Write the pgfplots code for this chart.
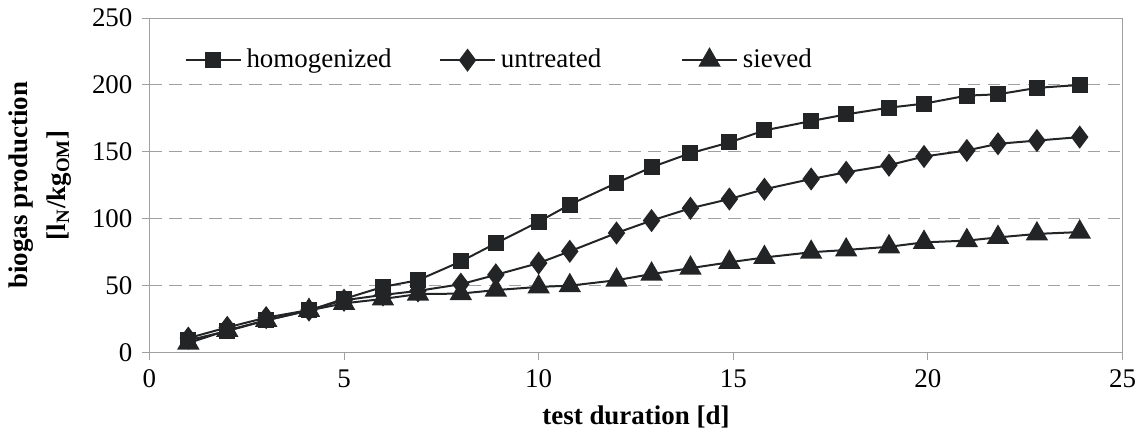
\documentclass[border=0pt]{standalone}
\usepackage{fontspec}
\setmainfont{Liberation Serif}
\usepackage{pgfplots}
\pgfplotsset{compat=1.18}

\definecolor{ink}{HTML}{222426}
\definecolor{frame}{HTML}{A0A0A0}

\begin{document}
\fontsize{10.8}{13}\selectfont
\begin{tikzpicture}
\begin{axis}[
    scale only axis,
    width=390pt, height=134pt,
    xmin=0, xmax=25, ymin=0, ymax=250,
    xtick={0,5,...,25}, ytick={0,50,...,250},
    tick align=outside, tick pos=left,
    major tick length=3pt,
    axis line style={frame},
    every tick/.style={frame},
    ymajorgrids,
    grid style={frame, dash pattern=on 5pt off 3pt},
    /pgf/number format/assume math mode=true,
    tick label style={font=\fontsize{10.8}{13}\selectfont},
    xticklabel style={inner xsep=0pt},
    xlabel={\textbf{test duration [d]}},
    ylabel={\textbf{biogas production}\\\textbf{[l\textsubscript{N}/kg\textsubscript{OM}]}},
    ylabel style={align=center, font=\fontsize{10.8}{15}\selectfont, yshift=1pt},
    legend style={at={(0.028,0.874)}, anchor=west, draw=none, fill=none,
        legend columns=3, font=\fontsize{10.8}{13}\selectfont,
        /tikz/column 2/.style={column sep=17pt},
        /tikz/column 4/.style={column sep=30pt}},
    legend image code/.code={\draw[#1] (0pt,0pt) -- (22pt,0pt); \draw[#1,mark repeat=2,mark phase=2] plot coordinates {(0pt,0pt) (11pt,0pt) (22pt,0pt)};},
    every axis plot/.append style={ink, line width=0.8pt, mark options={solid, fill=ink, draw=ink}},
]
\addplot[mark=square*, mark size=2.8pt] coordinates {
    (1,9) (2,16) (3,24) (4.1,31.4) (5,40) (6,49) (6.9,54) (8,68) (8.9,81.6)
    (10,97.7) (10.8,110.5) (12,126.7) (12.9,138.5) (13.9,149) (14.9,157)
    (15.8,166) (17,173) (17.9,178) (19,183) (19.9,186) (21,192) (21.8,193)
    (22.8,197.8) (23.9,200)
};
\addplot[mark=diamond*, mark size=4pt] coordinates {
    (1,10.7) (2,18.7) (3,26) (4.1,31.7) (5,39) (6,43) (6.9,46) (8,51) (8.9,58)
    (10,66.8) (10.8,75.6) (12,89.3) (12.9,98.6) (13.9,107.8) (14.9,114.7)
    (15.8,122) (17,129.7) (17.9,134.7) (19,140) (19.9,146.5) (21,151) (21.8,156)
    (22.8,158.4) (23.9,161)
};
\addplot[mark=triangle*, mark size=4.4pt] coordinates {
    (1,7) (2,16.5) (3,24) (4.1,31.4) (5,36.7) (6,40) (6.9,43.6) (8,44) (8.9,46.6)
    (10,49) (10.8,49.9) (12,54) (12.9,58.6) (13.9,63) (14.9,67.4)
    (15.8,71) (17,74.9) (17.9,76.6) (19,79) (19.9,82.3) (21,83.6) (21.8,86)
    (22.8,88.6) (23.9,90)
};
\legend{homogenized, untreated, sieved}
\end{axis}
\end{tikzpicture}
\end{document}
